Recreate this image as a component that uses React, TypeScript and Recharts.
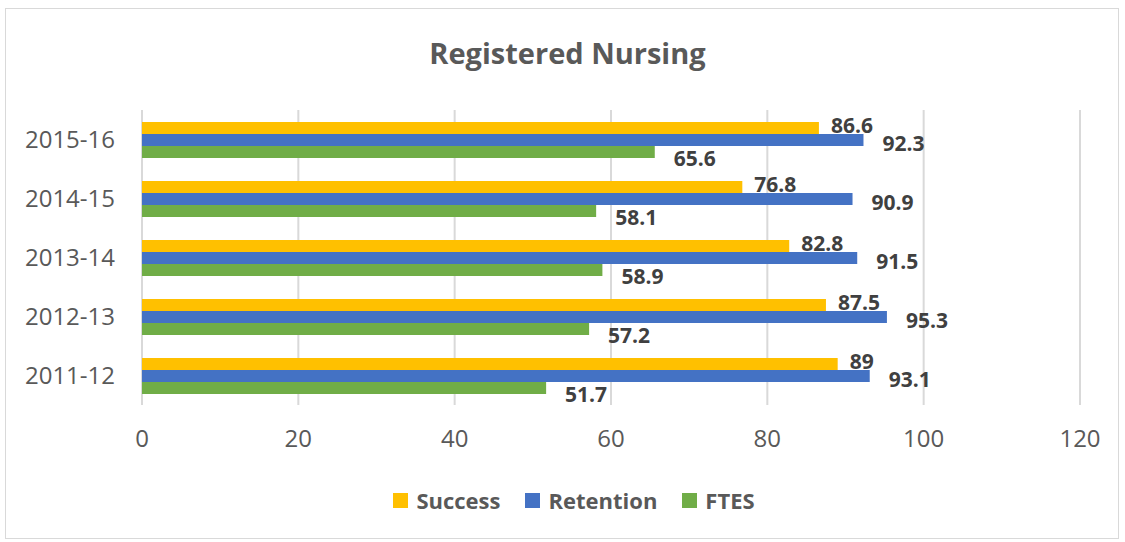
import React from "react";
import { BarChart, Bar, XAxis, YAxis, CartesianGrid, Legend, LabelList } from "recharts";

const years = ["2015-16", "2014-15", "2013-14", "2012-13", "2011-12"];
const success = [86.6, 76.8, 82.8, 87.5, 89];
const retention = [92.3, 90.9, 91.5, 95.3, 93.1];
const ftes = [65.6, 58.1, 58.9, 57.2, 51.7];
const xTicks = [0, 20, 40, 60, 80, 100, 120];

const seriesNames = ["Success", "Retention", "FTES"];
const seriesColors = ["#FFC000", "#4472C4", "#70AD47"];

const data = years.map((y, i) => ({
  year: y,
  Success: success[i],
  Retention: retention[i],
  FTES: ftes[i],
}));

const FONT = "'Open Sans', sans-serif";

const makeLabel = (dx: number, dy: number) => (props: any) => {
  const { x, y, width, height, value } = props;
  return (
    <text
      x={Number(x) + Number(width) + dx}
      y={Number(y) + Number(height) / 2 + dy}
      dominantBaseline="central"
      fontFamily={FONT}
      fontWeight={700}
      fontSize={21}
      fill="#404040"
    >
      {value}
    </text>
  );
};

const labelOffsets: [number, number][] = [
  [12, -3],
  [19, 3],
  [19, 6],
];

const LegendContent = () => (
  <div
    style={{
      display: "flex",
      justifyContent: "center",
      alignItems: "center",
      width: 1125,
      paddingLeft: 23,
      boxSizing: "border-box",
      fontFamily: FONT,
      fontWeight: 700,
      fontSize: 22,
      color: "#595959",
    }}
  >
    {seriesNames.map((n, i) => (
      <div key={n} style={{ display: "flex", alignItems: "center", marginRight: i < 2 ? 25 : 0 }}>
        <div style={{ width: 15, height: 15, background: seriesColors[i], marginRight: 8 }} />
        <span>{n}</span>
      </div>
    ))}
  </div>
);

export default function App() {
  return (
    <div style={{ position: "absolute", left: 0, top: 0, width: 1125, height: 542, background: "#fff" }}>
      <div
        style={{
          position: "absolute",
          left: 5,
          top: 8,
          width: 1112,
          height: 529,
          border: "1px solid #d9d9d9",
        }}
      />
      <div
        style={{
          position: "absolute",
          left: 5,
          top: 33,
          width: 1125,
          textAlign: "center",
          fontFamily: FONT,
          fontWeight: 700,
          fontSize: 29,
          color: "#595959",
          lineHeight: "40px",
        }}
      >
        Registered Nursing
      </div>
      <div style={{ position: "absolute", left: 0, top: 0 }}>
        <BarChart
          width={1125}
          height={542}
          data={data}
          layout="vertical"
          margin={{ top: 110, right: 45, left: 0, bottom: 97 }}
          barGap={0}
          barSize={12}
        >
          <CartesianGrid horizontal={false} stroke="#d9d9d9" strokeWidth={2} />
          <XAxis
            type="number"
            domain={[0, 120]}
            ticks={xTicks}
            axisLine={false}
            tickLine={false}
            tickSize={0}
            tickMargin={25}
            height={40}
            tick={{ fill: "#595959", fontSize: 24, fontFamily: FONT }}
          />
          <YAxis
            type="category"
            dataKey="year"
            width={142}
            axisLine={false}
            tickLine={false}
            tickSize={0}
            tickMargin={27}
            tick={{ fill: "#595959", fontSize: 24, fontFamily: FONT }}
          />
          <Legend
            verticalAlign="middle"
            align="center"
            content={<LegendContent />}
            wrapperStyle={{ top: 485, left: 0, width: 1125 }}
          />
          {seriesNames.map((n, i) => (
            <Bar key={n} dataKey={n} fill={seriesColors[i]} isAnimationActive={false}>
              <LabelList dataKey={n} content={makeLabel(labelOffsets[i][0], labelOffsets[i][1])} />
            </Bar>
          ))}
        </BarChart>
      </div>
    </div>
  );
}
